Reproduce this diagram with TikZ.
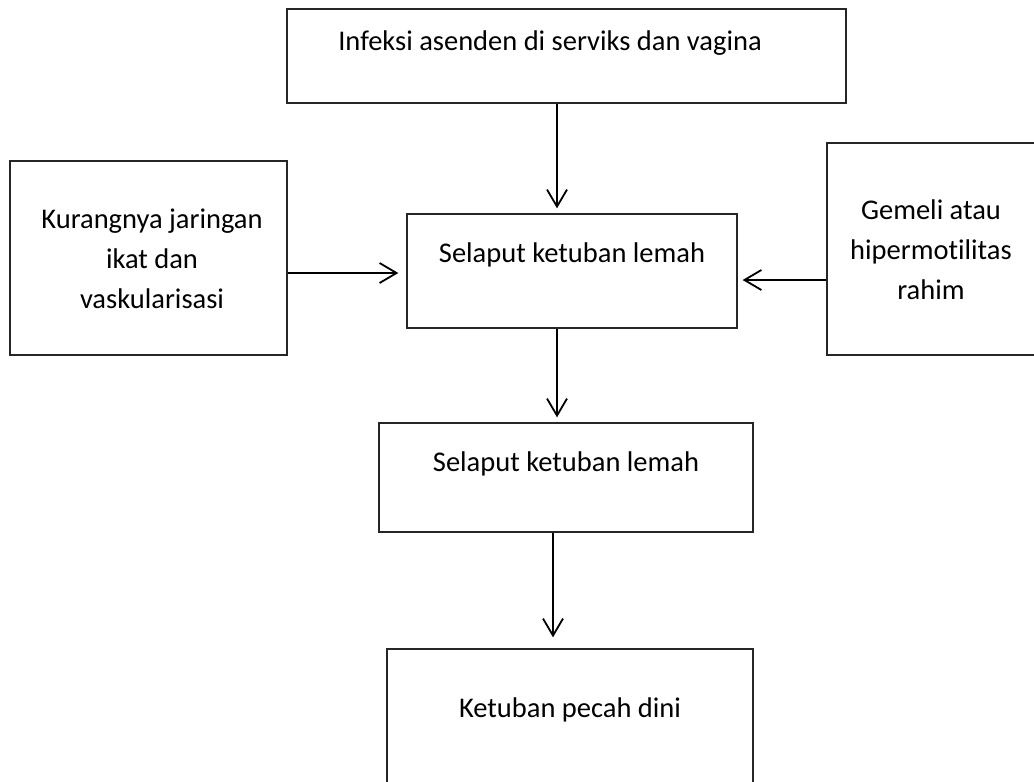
\documentclass[tikz,border=0pt]{standalone}
\usepackage{fontspec}
\setmainfont[Ligatures=NoCommon]{Carlito}
\usetikzlibrary{arrows.meta}

\begin{document}
\begin{tikzpicture}[x=1pt, y=-1pt,
  kotak/.style={draw=black!85, line width=1.3pt, inner sep=0pt},
  teks/.style={font=\fontsize{28.5}{40}\selectfont, align=center, inner sep=0pt},
  panah/.style={line width=2pt, -{Straight Barb[length=17pt, width=20pt, line width=1.8pt]}}]

\useasboundingbox (0,0) rectangle (1034,782);

% Boxes
\node[kotak, minimum width=559, minimum height=94] (infeksi) at (566.5,56) {};
\node[kotak, minimum width=330, minimum height=114] (lemah) at (572,271) {};
\node[kotak, minimum width=277, minimum height=194] (kurang) at (148.5,258) {};
\node[kotak, minimum width=209, minimum height=212] (gemeli) at (931.5,249) {};
\node[kotak, minimum width=374, minimum height=109] (lemahb) at (566,477.5) {};
\node[kotak, minimum width=366, minimum height=151] (pecah) at (570,724.5) {};

% Texts
\node[teks] (tinfeksi) at (550,43) {Infeksi asenden di serviks dan vagina};
\node[teks] (tlemah) at (572,255) {Selaput ketuban lemah};
\node[teks] (tkurang) at (152,259) {Kurangnya jaringan\\ikat dan\\vaskularisasi};
\node[teks] (tgemeli) at (931,250) {Gemeli atau\\hipermotilitas\\rahim};
\node[teks] (tlemahb) at (566,464) {Selaput ketuban lemah};
\node[teks] (tpecah) at (570,710) {Ketuban pecah dini};

% Arrows
\coordinate (xa) at (557,0);
\coordinate (xb) at (553,0);
\coordinate (ya) at (0,273);
\coordinate (yb) at (0,280);
\draw[panah, shorten >=5pt] (infeksi.south -| xa) -- (lemah.north -| xa);
\draw[panah, shorten >=8pt] (kurang.east |- ya) -- (lemah.west |- ya);
\draw[panah, shorten >=5pt] (gemeli.west |- yb) -- (lemah.east |- yb);
\draw[panah, shorten >=5pt] (lemah.south -| xa) -- (lemahb.north -| xa);
\draw[panah, shorten >=11pt] (lemahb.south -| xb) -- (pecah.north -| xb);

\end{tikzpicture}
\end{document}
